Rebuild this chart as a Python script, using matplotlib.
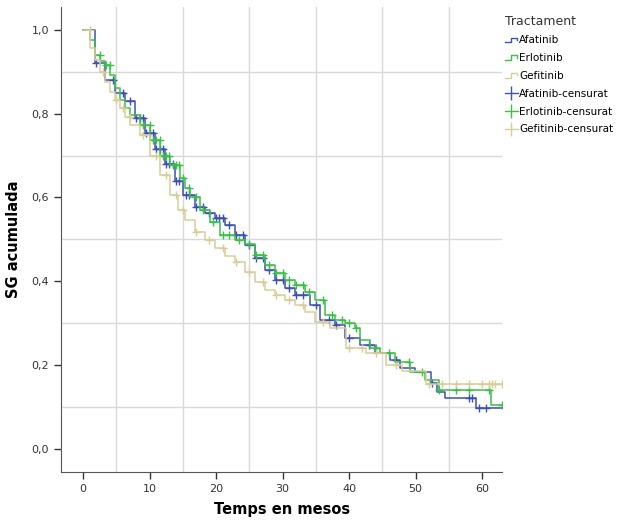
import numpy as np
import matplotlib.pyplot as plt
from matplotlib.lines import Line2D
from matplotlib.legend_handler import HandlerBase

# Kaplan-Meier steps (months, cumulative survival)
afa_t = [0, 1.8, 3.3, 4.8, 6.3, 7.8, 9.3, 10.8, 12.3, 13.8, 15.0, 16.8, 18.3, 19.8,
         21.4, 22.9, 24.4, 25.9, 27.4, 28.9, 30.4, 31.9, 34.1, 35.6, 37.9, 39.4,
         41.7, 43.9, 46.2, 47.7, 49.9, 52.3, 53.2, 54.4, 59.0]
afa_s = [1.0, 0.92, 0.88, 0.85, 0.83, 0.79, 0.755, 0.715, 0.68, 0.64, 0.605, 0.578,
         0.563, 0.55, 0.535, 0.51, 0.487, 0.456, 0.427, 0.403, 0.384, 0.368, 0.344,
         0.308, 0.296, 0.265, 0.248, 0.23, 0.212, 0.193, 0.184, 0.157, 0.136, 0.122, 0.098]

erl_t = [0, 1.05, 1.8, 2.6, 3.3, 4.1, 4.8, 5.6, 6.3, 7.1, 8.6, 10.1, 11.6, 13.1, 14.6,
         15.3, 16.1, 17.6, 19.1, 20.6, 22.9, 24.4, 25.9, 27.4, 28.9, 30.4, 31.9, 33.4,
         34.9, 36.4, 37.9, 39.4, 40.9, 41.7, 43.2, 44.7, 46.9, 49.2, 51.4, 53.5, 61.3]
erl_s = [1.0, 0.976, 0.94, 0.925, 0.916, 0.893, 0.862, 0.833, 0.814, 0.797, 0.773,
         0.737, 0.70, 0.678, 0.647, 0.623, 0.60, 0.57, 0.542, 0.51, 0.499, 0.49, 0.463,
         0.44, 0.42, 0.403, 0.391, 0.375, 0.356, 0.32, 0.308, 0.30, 0.289, 0.26, 0.241,
         0.23, 0.208, 0.184, 0.165, 0.14, 0.105]

gef_t = [0, 1.05, 1.8, 2.6, 3.3, 4.1, 4.8, 5.6, 6.3, 7.1, 8.6, 10.1, 11.6, 13.1, 14.3,
         15.3, 16.8, 18.3, 19.8, 21.4, 22.9, 24.4, 25.9, 27.4, 28.9, 30.4, 31.9, 33.4,
         34.9, 37.1, 39.5, 42.5, 45.5, 48.0, 51.5]
gef_s = [1.0, 0.957, 0.928, 0.90, 0.876, 0.852, 0.833, 0.814, 0.792, 0.773, 0.749,
         0.70, 0.654, 0.606, 0.57, 0.547, 0.518, 0.499, 0.48, 0.46, 0.446, 0.422, 0.399,
         0.38, 0.368, 0.356, 0.344, 0.327, 0.303, 0.289, 0.24, 0.229, 0.2, 0.185, 0.155]

# censored observations (months)
afa_c = [2, 4.5, 6, 7, 8, 8.5, 9, 9.5, 10, 10.5, 11, 11.5, 12, 12.5, 13, 13.5, 14,
         14.5, 15.5, 16, 17, 18, 19, 20, 20.5, 21, 22, 23, 24, 25, 26, 27, 28, 29, 30,
         31, 32, 33, 35, 37, 38, 40, 43, 47, 52.5, 58, 58.5, 59.5, 60.5]
erl_c = [2.5, 3.5, 4, 9, 10, 10.5, 11, 11.5, 12, 12.5, 13, 13.5, 14, 14.5, 15, 16, 17,
         18, 19.5, 21, 22, 23.5, 25, 26, 27, 28, 29, 30, 31, 32, 33, 34, 36, 37.5, 39,
         40, 41, 44, 46, 49, 51, 53.5, 56, 58, 61, 63]
gef_c = [1, 3, 5, 6, 7, 9, 11, 12.5, 14, 15, 17, 19, 21, 23, 25, 27, 29, 31, 33, 36,
         40, 42, 44, 47, 52, 54, 56, 58, 60, 61, 61.5, 62, 63]

groups = ["Afatinib", "Erlotinib", "Gefitinib"]
colors = ["#3f51b0", "#3cbf48", "#d6cd98"]
x_ticks = [0, 10, 20, 30, 40, 50, 60]
y_ticks = [0.0, 0.2, 0.4, 0.6, 0.8, 1.0]


def surv_at(t, s, times):
    idx = np.searchsorted(t, times, side="right") - 1
    return np.array(s)[idx]


class StepHandler(HandlerBase):
    def create_artists(self, legend, orig, xd, yd, width, height, fontsize, trans):
        xs = [xd, xd + width * 0.45, xd + width * 0.45, xd + width * 0.9, xd + width * 0.9]
        ys = [yd + height * 0.2, yd + height * 0.2, yd + height * 0.8, yd + height * 0.8,
              yd + height * 0.5]
        ln = Line2D(xs, ys, color=orig.get_color(), lw=1, transform=trans)
        return [ln]


fig = plt.figure(figsize=(6.23, 5.21), dpi=100)
ax = fig.add_axes([0.098, 0.094, 0.708, 0.893])

for g, c, t, s, ct in zip(groups, colors,
                          [afa_t, erl_t, gef_t], [afa_s, erl_s, gef_s],
                          [afa_c, erl_c, gef_c]):
    tt = list(t) + [63.0]
    ss = list(s) + [s[-1]]
    ax.step(tt, ss, where="post", color=c, lw=1.1, zorder=3)
    ax.plot(ct, surv_at(t, s, ct), "+", color=c, ms=6, mew=1.0, zorder=3)

for xv in [5, 15, 25, 35, 45, 55]:
    ax.axvline(xv, color="#d9d9d9", lw=1, zorder=1)
for yv in [0.1, 0.3, 0.5, 0.7, 0.9]:
    ax.axhline(yv, color="#d9d9d9", lw=1, zorder=1)

ax.set_xlim(-3.3, 63.0)
ax.set_ylim(-0.055, 1.055)
ax.set_xticks(x_ticks)
ax.set_yticks(y_ticks)
ax.set_yticklabels([f"{v:.1f}".replace(".", ",") for v in y_ticks])
ax.tick_params(labelsize=8, colors="#333333", length=5, width=1)
ax.spines["top"].set_visible(False)
ax.spines["right"].set_visible(False)
for sp in ["left", "bottom"]:
    ax.spines[sp].set_color("#555555")
ax.set_ylabel("SG acumulada", fontsize=10.5, fontweight="bold", labelpad=8)
ax.set_xlabel("Temps en mesos", fontsize=10.5, fontweight="bold", labelpad=6)

handles = []
labels = []
for g, c in zip(groups, colors):
    handles.append(Line2D([], [], color=c, lw=1))
    labels.append(g)
for g, c in zip(groups, colors):
    handles.append(Line2D([], [], color=c, lw=1, marker="|", ms=10, mew=1))
    labels.append(g + "-censurat")

hmap = {h: StepHandler() for h in handles[:3]}
leg = fig.legend(handles, labels, title="Tractament", loc="upper left",
                 bbox_to_anchor=(0.795, 0.99), frameon=False, fontsize=7.5,
                 title_fontsize=9, handlelength=1.3, handletextpad=0.1,
                 labelspacing=0.75, handler_map=hmap)
leg._legend_box.align = "left"
leg.get_title().set_color("#333333")

fig.savefig("out.png", dpi=100)
